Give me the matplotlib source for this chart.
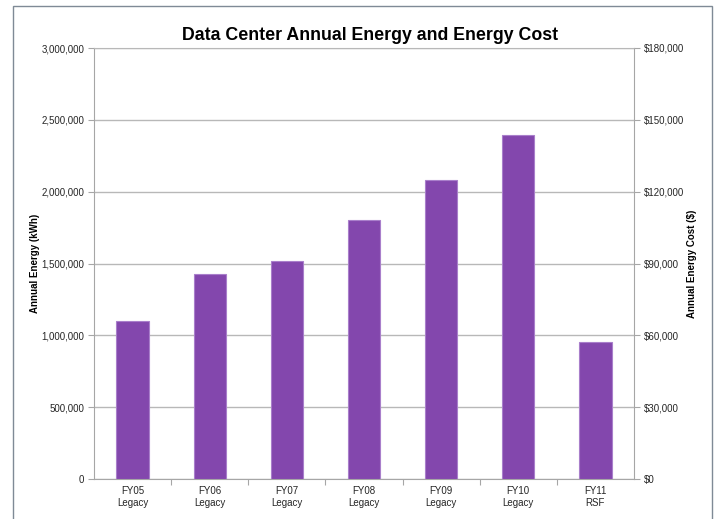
import matplotlib
matplotlib.use("Agg")
import matplotlib.pyplot as plt
from matplotlib.patches import Rectangle
from matplotlib.ticker import FuncFormatter, MultipleLocator

plt.rcParams['font.family'] = ['Liberation Sans', 'DejaVu Sans']

# data
years = ["FY05", "FY06", "FY07", "FY08", "FY09", "FY10", "FY11"]
kinds = ["Legacy", "Legacy", "Legacy", "Legacy", "Legacy", "Legacy", "RSF"]
energy_kwh = [1100000, 1425000, 1515000, 1800000, 2080000, 2395000, 954000]

BAR = "#8347AD"
EDGE = "#A97FCB"
GRID = "#B8B8B8"
SPINE = "#A6A6A6"
TXT = "#262626"

fig = plt.figure(figsize=(7.17, 5.19), dpi=100)

# outer chart frame (bottom runs past the picture)
fig.patches.append(Rectangle((13 / 717, -0.05), (712 - 13) / 717, 1.05 - 6 / 519,
                             transform=fig.transFigure, fill=False,
                             edgecolor="#7F8A96", linewidth=1.0))

ax = fig.add_axes([94 / 717, 1 - 479 / 519, 540 / 717, 431 / 519])
x = list(range(len(years)))
ax.bar(x, energy_kwh, width=0.42, color=BAR, edgecolor=EDGE, linewidth=0.8, zorder=3)

ax.set_xlim(-0.5, len(years) - 0.5)
ax.set_ylim(0, 3000000)
ax.yaxis.set_major_locator(MultipleLocator(500000))
ax.yaxis.set_major_formatter(FuncFormatter(lambda v, p: f"{int(v):,}"))
ax.grid(axis="y", color=GRID, linewidth=1.0, zorder=0)

ax.set_xticks([i + 0.5 for i in x[:-1]], minor=False)
ax.set_xticklabels([])
ax.set_xticks(x, minor=True)
ax.set_xticklabels([f"{y}\n{k}" for y, k in zip(years, kinds)], minor=True,
                   fontsize=7, color=TXT)
ax.tick_params(axis="x", which="minor", length=0, pad=5)
ax.tick_params(axis="x", which="major", length=4, color=SPINE)
ax.tick_params(axis="y", length=4, color=SPINE, labelsize=7, pad=3, labelcolor=TXT)

for s in ["left", "right", "bottom", "top"]:
    ax.spines[s].set_color(SPINE)
ax.spines["top"].set_color(GRID)

ax.set_ylabel("Annual Energy (kWh)", fontsize=7, fontweight="bold", labelpad=1)

ax2 = ax.twinx()
ax2.set_ylim(0, 180000)
ax2.yaxis.set_major_locator(MultipleLocator(30000))
ax2.yaxis.set_major_formatter(FuncFormatter(lambda v, p: f"${int(v):,}"))
ax2.tick_params(axis="y", length=4, color=SPINE, labelsize=7, pad=3, labelcolor=TXT)
for s in ["left", "right", "bottom", "top"]:
    ax2.spines[s].set_visible(False)
ax2.set_ylabel("Annual Energy Cost ($)", fontsize=7, fontweight="bold", labelpad=2)

fig.text(370 / 717, 1 - 35 / 519, "Data Center Annual Energy and Energy Cost",
         ha="center", va="center", fontsize=12.8, fontweight="bold")

fig.savefig("out.png", dpi=100)
